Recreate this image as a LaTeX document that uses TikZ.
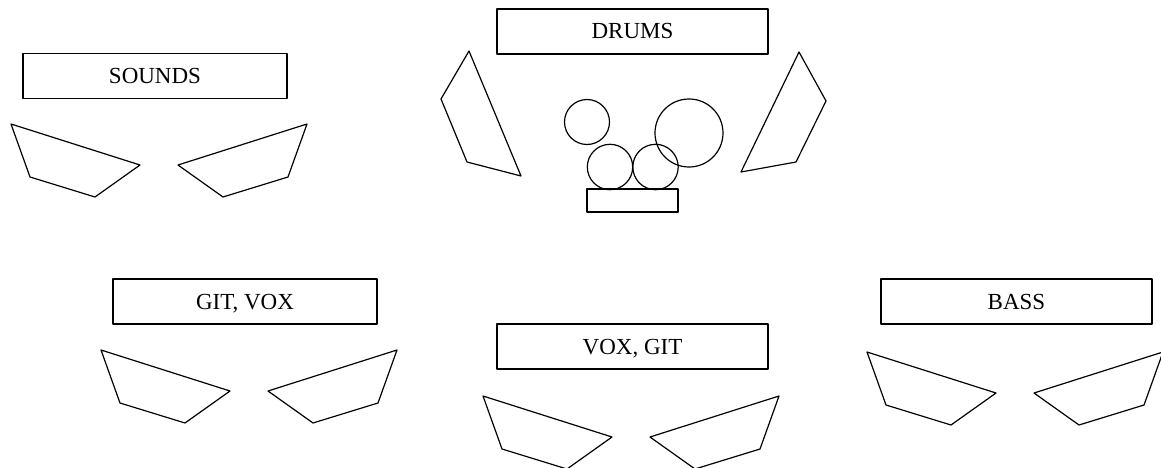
\documentclass[tikz,border=0pt]{standalone}
\usepackage{fontspec}
\setmainfont{Liberation Serif}

\tikzstyle{label} = [align=center, draw, rectangle, inner sep=0pt, minimum height=45pt, text height=15pt, text depth=0pt, font=\fontsize{23}{27}\selectfont]
\tikzstyle{stage} = [line width=1.2pt, line join=round]

\begin{document}
\begin{tikzpicture}[x=1pt,y=-1pt,stage]
            %
            % Fix the page size first
            \useasboundingbox (0,0) rectangle (1161,468);
            %
            % The name plates
            \node [label, minimum width=264pt] (sounds) at (155,76) {SOUNDS};
            \node [label, minimum width=271pt] (drums) at (632.5,31.5) {DRUMS};
            \node [label, minimum width=264pt] (gitvox) at (245,301.5) {GIT, VOX};
            \node [label, minimum width=271pt] (voxgit) at (632.5,346.5) {VOX, GIT};
            \node [label, minimum width=271pt] (bass) at (1016.5,301.5) {BASS};
            %
            % Each plate gets a pair of monitor wedges
            \foreach \x/\y in {11/124, 101/350, 483/396, 867/352} {
                \draw [shift={(\x,\y)}] (0,0) -- (129,41) -- (84,73) -- (19,53) -- cycle;
                \draw [shift={(\x+296,\y)}] (0,0) -- (-129,41) -- (-84,73) -- (-19,53) -- cycle;
            }
            %
            % Side fills next to the kit
            \draw (469,51) -- (521,176) -- (467,162) -- (441,99) -- cycle;
            \draw (799,52) -- (826,101) -- (796,162) -- (741,172) -- cycle;
            %
            % The kit itself
            \draw (587,122) circle (22.5);
            \draw (610,167) circle (22.7);
            \draw (655.5,167) circle (22.7);
            \draw (689,133) circle (34);
            \draw (587,189) rectangle (678,212);
            %
        \end{tikzpicture}
\end{document}
